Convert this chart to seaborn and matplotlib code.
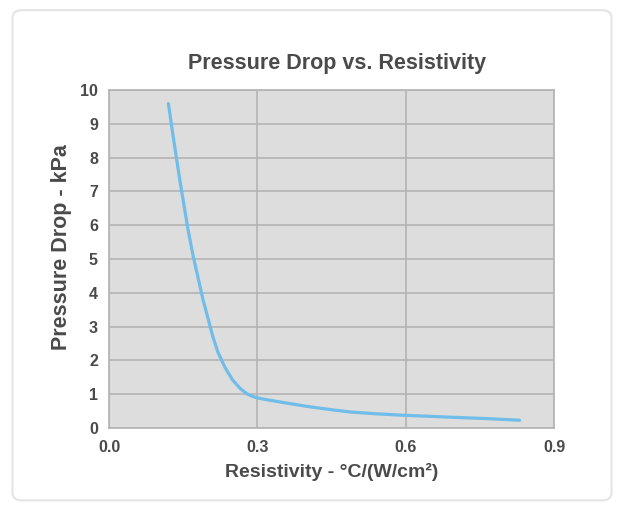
import pandas as pd
import matplotlib
matplotlib.use("Agg")
import matplotlib.pyplot as plt
import seaborn as sns
from matplotlib.patches import FancyBboxPatch

# Curve
resistivity = [0.12, 0.13, 0.143, 0.16, 0.17, 0.18, 0.19, 0.20, 0.21, 0.22, 0.235, 0.25,
               0.265, 0.28, 0.295, 0.31, 0.35, 0.40, 0.45, 0.49, 0.54, 0.59, 0.69, 0.76, 0.83]
pressure_drop = [9.6, 8.6, 7.35, 5.85, 5.1, 4.45, 3.8, 3.25, 2.7, 2.25, 1.78, 1.42,
                 1.17, 1.0, 0.91, 0.86, 0.76, 0.64, 0.54, 0.47, 0.42, 0.38, 0.32, 0.28, 0.23]
x_ticks = [0.0, 0.3, 0.6, 0.9]
y_ticks = list(range(0, 11))

df = pd.DataFrame({"resistividade": resistivity, "queda": pressure_drop})

sns.set_theme(style="darkgrid")
plt.rcParams["font.family"] = ["Liberation Sans", "DejaVu Sans"]
text_color = "#4a4a4a"

fig = plt.figure(figsize=(6.24, 5.08), dpi=100)
fig.patch.set_facecolor("white")

# card border (behind the axes)
card = FancyBboxPatch((0.02, 0.015), 0.96, 0.965, boxstyle="round,pad=0,rounding_size=0.015",
                      transform=fig.transFigure, facecolor="white", edgecolor="#e4e4e4",
                      linewidth=1.5, zorder=-10)
fig.patches.append(card)

ax = fig.add_axes([0.1747, 0.1575, 0.7133, 0.6653])
ax.set_zorder(5)
sns.lineplot(data=df, x="resistividade", y="queda", ax=ax, color="#70bde9", linewidth=2.3)

ax.set_facecolor("#dddddd")
ax.grid(True, color="#b3b3b3", linewidth=1.2)
for s in ax.spines.values():
    s.set_visible(True)
    s.set_color("#b3b3b3")
    s.set_linewidth(1.2)

ax.set_xlim(0, 0.9)
ax.set_ylim(0, 10)
ax.set_xticks(x_ticks)
ax.set_xticklabels([f"{v:.1f}" for v in x_ticks])
ax.set_yticks(y_ticks)
ax.tick_params(axis="both", length=0, labelcolor=text_color)
ax.tick_params(axis="x", pad=9, labelsize=11.5)
ax.tick_params(axis="y", pad=8, labelsize=11.5)
for lbl in ax.get_xticklabels() + ax.get_yticklabels():
    lbl.set_fontweight("bold")

# title and axis labels placed like the reference
fig.text(337.5 / 624, 1 - 63 / 508, "Pressure Drop vs. Resistivity", fontsize=15.5,
         fontweight="bold", color=text_color, ha="center", va="center")
ax.set_xlabel("Resistivity - °C/(W/cm²)", fontsize=14, fontweight="bold", color=text_color)
ax.xaxis.set_label_coords((332 - 109) / 445, -(463 - 428) / 338)
ax.set_ylabel("Pressure Drop - kPa", fontsize=15.5, fontweight="bold", color=text_color)
ax.yaxis.set_label_coords(-(109 - 72) / 445, (428 - 247) / 338)

plt.savefig("out.png", dpi=100)
plt.close()
